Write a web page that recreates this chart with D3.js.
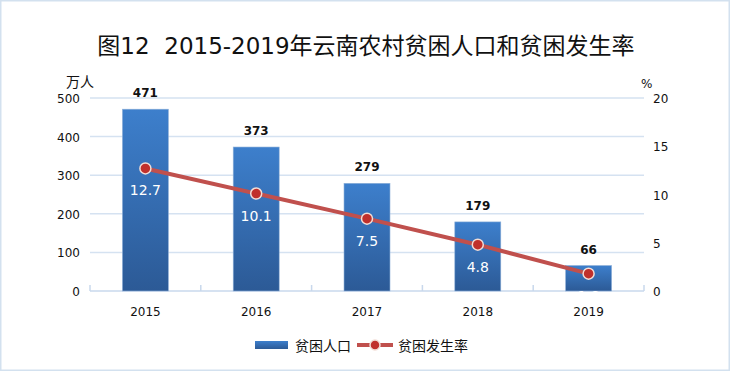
<!DOCTYPE html>
<html>
<head>
<meta charset="utf-8">
<script src="https://cdn.jsdelivr.net/npm/d3@7"></script>
<style>
  body { margin: 0; background: #fff; }
  svg { display: block; font-family: "DejaVu Sans", "Noto Sans CJK SC", sans-serif; }
</style>
</head>
<body>
<svg id="chart" width="730" height="371"></svg>
<script>
// --- Data ---
const years = ['2015', '2016', '2017', '2018', '2019'];
const population = [471, 373, 279, 179, 66];   // 万人
const rate = [12.7, 10.1, 7.5, 4.8, 1.8];        // %
const leftTicks = [0, 100, 200, 300, 400, 500];
const rightTicks = [0, 5, 10, 15, 20];

const width = 730, height = 371;
const margin = { top: 98, right: 86, bottom: 80, left: 90 };
const svg = d3.select('#chart');

// Outer border
svg.append('rect')
    .attr('x', 0.5).attr('y', 0.5)
    .attr('width', width - 1).attr('height', height - 1)
    .attr('fill', 'none').attr('stroke', '#d3e1ef').attr('stroke-width', 2);

const defs = svg.append('defs');
const grad = defs.append('linearGradient').attr('id', 'barGrad')
    .attr('x1', 0).attr('y1', 0).attr('x2', 0).attr('y2', 1);
grad.append('stop').attr('offset', '0%').attr('stop-color', '#3d7fcc');
grad.append('stop').attr('offset', '100%').attr('stop-color', '#2c5a96');

const x = d3.scaleBand()
    .domain(years)
    .range([margin.left, width - margin.right])
    .paddingInner(0.585).paddingOuter(0.2925);

const yL = d3.scaleLinear().domain([0, 500]).range([height - margin.bottom, margin.top]);
const yR = d3.scaleLinear().domain([0, 20]).range([height - margin.bottom, margin.top]);

// Title
svg.append('text')
    .attr('x', 366).attr('y', 54)
    .attr('text-anchor', 'middle')
    .attr('font-size', 23)
    .attr('fill', '#111')
    .style('white-space', 'pre')
    .text('图12  2015-2019年云南农村贫困人口和贫困发生率');

// Gridlines
svg.append('g').selectAll('line')
    .data(leftTicks.slice(1))
    .join('line')
    .attr('x1', margin.left).attr('x2', width - margin.right)
    .attr('y1', d => yL(d)).attr('y2', d => yL(d))
    .attr('stroke', '#d5e2f1').attr('stroke-width', 1.5);

// Baseline + category ticks
const base = yL(0);
svg.append('line')
    .attr('x1', margin.left).attr('x2', width - margin.right)
    .attr('y1', base).attr('y2', base)
    .attr('stroke', '#c8d8ec').attr('stroke-width', 1.5);
const bounds = d3.range(years.length + 1).map(i => margin.left + i * (width - margin.left - margin.right) / years.length);
svg.append('g').selectAll('line')
    .data(bounds)
    .join('line')
    .attr('x1', d => d).attr('x2', d => d)
    .attr('y1', base - 6).attr('y2', base)
    .attr('stroke', '#c8d8ec').attr('stroke-width', 1.5);

// Left axis labels
svg.append('g').selectAll('text')
    .data(leftTicks)
    .join('text')
    .attr('x', 80).attr('y', d => yL(d) + 5)
    .attr('text-anchor', 'end')
    .attr('font-size', 12).attr('fill', '#111')
    .text(d => d);

// Right axis labels
svg.append('g').selectAll('text')
    .data(rightTicks)
    .join('text')
    .attr('x', 653).attr('y', d => yR(d) + 5)
    .attr('text-anchor', 'start')
    .attr('font-size', 12).attr('fill', '#111')
    .text(d => d);

// Unit labels
svg.append('text').attr('x', 66).attr('y', 87)
    .attr('font-size', 14).attr('fill', '#111').text('万人');
svg.append('text').attr('x', 641).attr('y', 88)
    .attr('font-size', 12).attr('fill', '#111').text('%');

// X labels
svg.append('g').selectAll('text')
    .data(years)
    .join('text')
    .attr('x', d => x(d) + x.bandwidth() / 2).attr('y', 316)
    .attr('text-anchor', 'middle')
    .attr('font-size', 12).attr('fill', '#111')
    .text(d => d);

// Bars
svg.append('g').selectAll('rect')
    .data(population)
    .join('rect')
    .attr('x', (d, i) => x(years[i]))
    .attr('y', d => yL(d))
    .attr('width', x.bandwidth())
    .attr('height', d => base - yL(d))
    .attr('fill', 'url(#barGrad)')
    .attr('stroke', '#8fb0d8').attr('stroke-width', 0.6);

// Bar labels
svg.append('g').selectAll('text')
    .data(population)
    .join('text')
    .attr('x', (d, i) => x(years[i]) + x.bandwidth() / 2)
    .attr('y', d => yL(d) - 12)
    .attr('text-anchor', 'middle')
    .attr('font-size', 12).attr('font-weight', 'bold').attr('fill', '#111')
    .text(d => d);

// Line
const line = d3.line()
    .x((d, i) => x(years[i]) + x.bandwidth() / 2)
    .y(d => yR(d));
svg.append('path')
    .datum(rate)
    .attr('d', line)
    .attr('fill', 'none')
    .attr('stroke', '#c0504d')
    .attr('stroke-width', 4);

svg.append('g').selectAll('circle')
    .data(rate)
    .join('circle')
    .attr('cx', (d, i) => x(years[i]) + x.bandwidth() / 2)
    .attr('cy', d => yR(d))
    .attr('r', 5.5)
    .attr('fill', '#c0302c')
    .attr('stroke', '#f2ddd6').attr('stroke-width', 1.5);

svg.append('g').selectAll('text')
    .data(rate)
    .join('text')
    .attr('x', (d, i) => x(years[i]) + x.bandwidth() / 2)
    .attr('y', d => yR(d) + 27)
    .attr('text-anchor', 'middle')
    .attr('font-size', 14).attr('fill', '#fff')
    .text(d => d.toFixed(1));

// Legend
const lg = svg.append('g');
lg.append('rect').attr('x', 255).attr('y', 341).attr('width', 33).attr('height', 8)
    .attr('fill', 'url(#barGrad)');
lg.append('text').attr('x', 295).attr('y', 351)
    .attr('font-size', 14).attr('fill', '#111').text('贫困人口');
lg.append('line').attr('x1', 357).attr('x2', 393).attr('y1', 345).attr('y2', 345)
    .attr('stroke', '#c0504d').attr('stroke-width', 4);
lg.append('circle').attr('cx', 375).attr('cy', 345).attr('r', 5)
    .attr('fill', '#c0302c').attr('stroke', '#f2ddd6').attr('stroke-width', 1.5);
lg.append('text').attr('x', 398).attr('y', 351)
    .attr('font-size', 14).attr('fill', '#111').text('贫困发生率');
</script>
</body>
</html>
